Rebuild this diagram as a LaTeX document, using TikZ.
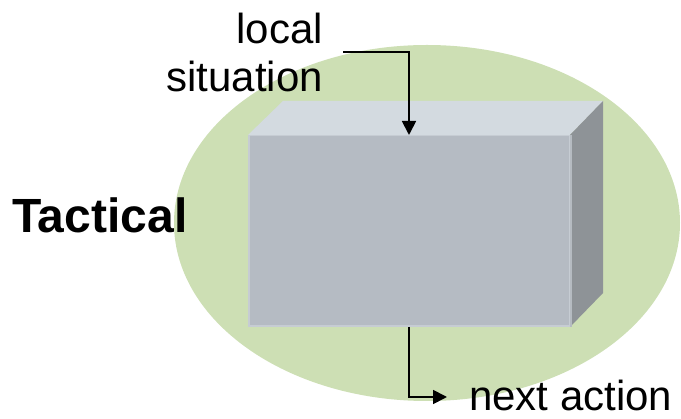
\documentclass[tikz,border=0pt]{standalone}
\usepackage{fontspec}
\setmainfont{Liberation Sans}
\usetikzlibrary{arrows.meta}
\definecolor{zone}{HTML}{CDDFB4}
\definecolor{faceFront}{HTML}{B5BBC3}
\definecolor{faceTop}{HTML}{D3DAE0}
\definecolor{faceSide}{HTML}{8E9397}
\definecolor{edgeLight}{HTML}{C6CCD3}
\begin{document}
\begin{tikzpicture}[x=1pt,y=-1pt,
  label text/.style={inner sep=0pt,font=\fontsize{42}{48}\selectfont},
  flow/.style={line width=1.8pt,-{Triangle[length=14pt,width=14pt]}},
]
\useasboundingbox (0,0) rectangle (681,419);
% tactical zone
\fill[zone] (427,223) ellipse [x radius=253, y radius=178];
% block: top and side faces
\fill[faceTop] (248,135) -- (283,101) -- (603,101) -- (570,135) -- cycle;
\fill[faceSide] (570,135) -- (603,101) -- (603,293) -- (570,327) -- cycle;
\draw[edgeLight!70!faceSide, line width=1.5pt] (570.8,135) -- (570.8,327);
% block: front face
\node[draw=edgeLight, line width=1.5pt, fill=faceFront, minimum width=320.5pt,
  minimum height=190.5pt, inner sep=0pt] (front) at (409,231) {};
% labels
\node[label text, anchor=base east] (local) at (323,44) {local};
\node[label text, anchor=base east] (situation) at (323,92) {situation};
\node[label text, anchor=base west] (next) at (469,411) {next action};
\node[inner sep=0pt, anchor=base west, font=\fontsize{48}{54}\selectfont\bfseries] (tactical) at (12,233) {Tactical};
% connectors
\coordinate (in) at (343,52);
\coordinate (out) at (447,397);
\draw[flow] (in) -| (front.north);
\draw[flow] (front.south) |- (out);
\end{tikzpicture}
\end{document}
